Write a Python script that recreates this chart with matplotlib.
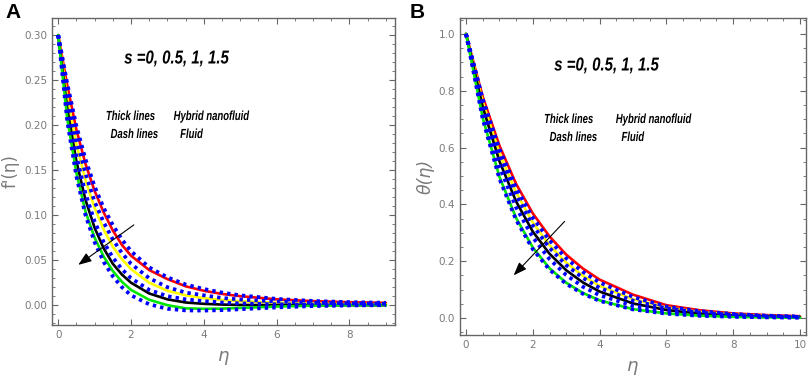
import matplotlib
matplotlib.use("Agg")
import matplotlib.pyplot as plt
from matplotlib.ticker import MultipleLocator
from matplotlib.patheffects import AbstractPathEffect
from matplotlib.transforms import Affine2D

# ---------------- Panel A data: f'(eta) ----------------
eta_a = [0, 0.25, 0.5, 0.75, 1, 1.25, 1.5, 1.75, 2, 2.5, 3, 3.5, 4, 4.5, 5, 6, 7, 8, 9]
fa_red    = [0.300, 0.244, 0.195, 0.157, 0.127, 0.103, 0.083, 0.067, 0.055, 0.039, 0.029, 0.021, 0.016, 0.0125, 0.010, 0.0065, 0.0045, 0.0033, 0.0026]
fa_yellow = [0.300, 0.230, 0.179, 0.139, 0.108, 0.084, 0.065, 0.051, 0.040, 0.025, 0.016, 0.011, 0.0078, 0.0058, 0.0044, 0.0027, 0.0017, 0.0012, 0.0010]
fa_black  = [0.300, 0.218, 0.160, 0.117, 0.086, 0.063, 0.046, 0.034, 0.025, 0.013, 0.0065, 0.003, 0.0015, 0.0007, 0.0003, 0.0, 0.0, 0.0, 0.0]
fa_green  = [0.300, 0.207, 0.147, 0.104, 0.075, 0.054, 0.038, 0.026, 0.017, 0.006, 0.000, -0.0035, -0.004, -0.0038, -0.003, -0.0015, -0.0005, 0.0, 0.0]
fa_fluid1 = [0.300, 0.246, 0.199, 0.162, 0.132, 0.108, 0.089, 0.073, 0.060, 0.042, 0.031, 0.023, 0.018, 0.014, 0.011, 0.007, 0.0047, 0.0034, 0.0027]
fa_fluid2 = [0.300, 0.235, 0.185, 0.146, 0.115, 0.092, 0.073, 0.058, 0.046, 0.030, 0.020, 0.014, 0.011, 0.008, 0.0063, 0.004, 0.0027, 0.002, 0.0016]
fa_fluid3 = [0.300, 0.222, 0.166, 0.124, 0.093, 0.070, 0.053, 0.040, 0.030, 0.017, 0.010, 0.0065, 0.0045, 0.003, 0.002, 0.001, 0.0005, 0.0003, 0.0002]
fa_fluid4 = [0.300, 0.204, 0.143, 0.100, 0.070, 0.048, 0.032, 0.020, 0.011, 0.001, -0.004, -0.0058, -0.006, -0.0055, -0.0045, -0.0025, -0.001, -0.0003, 0.0]

# ---------------- Panel B data: theta(eta) ----------------
eta_b = [0, 0.5, 1, 1.5, 2, 2.5, 3, 3.5, 4, 5, 6, 7, 8, 9, 10]
tb_red    = [1.0, 0.779, 0.607, 0.472, 0.368, 0.287, 0.223, 0.174, 0.135, 0.082, 0.045, 0.027, 0.016, 0.010, 0.006]
tb_yellow = [1.0, 0.761, 0.580, 0.442, 0.336, 0.256, 0.195, 0.148, 0.113, 0.066, 0.037, 0.021, 0.012, 0.007, 0.004]
tb_black  = [1.0, 0.743, 0.552, 0.410, 0.304, 0.226, 0.168, 0.125, 0.093, 0.051, 0.028, 0.015, 0.0085, 0.005, 0.003]
tb_green  = [1.0, 0.705, 0.497, 0.352, 0.248, 0.175, 0.124, 0.088, 0.062, 0.031, 0.016, 0.008, 0.004, 0.002, 0.001]
tb_fluid1 = [1.0, 0.771, 0.595, 0.458, 0.353, 0.273, 0.210, 0.162, 0.125, 0.074, 0.040, 0.024, 0.014, 0.008, 0.005]
tb_fluid2 = [1.0, 0.756, 0.571, 0.432, 0.326, 0.247, 0.186, 0.141, 0.106, 0.061, 0.034, 0.019, 0.011, 0.006, 0.0035]
tb_fluid3 = [1.0, 0.730, 0.533, 0.389, 0.284, 0.207, 0.151, 0.110, 0.080, 0.043, 0.023, 0.012, 0.0065, 0.0035, 0.002]
tb_fluid4 = [1.0, 0.700, 0.490, 0.345, 0.242, 0.170, 0.120, 0.085, 0.060, 0.030, 0.015, 0.0075, 0.004, 0.002, 0.001]

s_label = "s =0, 0.5, 1, 1.5"
note_labels = ["Thick lines", "Hybrid nanofluid", "Dash lines", "Fluid"]
solid_colors = ["#ff0000", "#ffff00", "#000000", "#00e600"]
fluid_color = "#0000ff"

SANS = ["Liberation Sans", "DejaVu Sans"]
GRAY = "#7a7a7a"
W, H = 809, 386


class Squeeze(AbstractPathEffect):
    """Horizontally condense text glyphs around their own centre (narrow font look)."""
    def __init__(self, sx):
        super().__init__()
        self.sx = sx

    def draw_path(self, renderer, gc, tpath, affine, rgbFace=None):
        ext = tpath.get_extents(affine)
        cx = 0.5 * (ext.x0 + ext.x1)
        aff = affine + Affine2D().translate(-cx, 0).scale(self.sx, 1).translate(cx, 0)
        renderer.draw_path(gc, tpath, aff, rgbFace)


fig = plt.figure(figsize=(W / 100, H / 100), dpi=100)
axA = fig.add_axes([52 / W, 1 - 325 / H, 343 / W, 307 / H])
axB = fig.add_axes([460 / W, 1 - 335 / H, 346 / W, 317 / H])


def style(ax):
    for sp in ax.spines.values():
        sp.set_color("#666666")
        sp.set_linewidth(1.0)
    ax.tick_params(which="both", direction="in", top=True, right=True,
                   colors="#666666", labelcolor=GRAY, labelsize=7.5)
    ax.tick_params(which="major", length=4.5, width=0.8)
    ax.tick_params(which="minor", length=2.5, width=0.6)


def draw(ax, x, solids, fluids):
    for y, c in zip(solids, solid_colors):
        ax.plot(x, y, color=c, lw=1.9, solid_capstyle="round", zorder=2)
    for y in fluids:
        ax.plot(x, y, color=fluid_color, lw=2.7, linestyle=(0, (0.9, 1.1)), zorder=3)


def ftext(px, py, s, size, sx):
    fig.text(px / W, 1 - py / H, s, ha="center", va="center", fontsize=size,
             fontweight="bold", fontstyle="italic", family=SANS,
             path_effects=[Squeeze(sx)])


# Panel A
draw(axA, eta_a, [fa_red, fa_yellow, fa_black, fa_green],
     [fa_fluid1, fa_fluid2, fa_fluid3, fa_fluid4])
axA.set_xlim(-0.17, 9.25)
axA.set_ylim(-0.022, 0.319)
axA.xaxis.set_major_locator(MultipleLocator(2))
axA.xaxis.set_minor_locator(MultipleLocator(0.5))
axA.yaxis.set_major_locator(MultipleLocator(0.05))
axA.yaxis.set_minor_locator(MultipleLocator(0.01))
axA.yaxis.set_major_formatter(plt.FuncFormatter(lambda v, p: f"{v:.2f}"))
style(axA)
axA.set_xlabel("η", fontsize=13, color=GRAY, fontstyle="italic", labelpad=5)
axA.set_ylabel("f'(η)", fontsize=12, color=GRAY, labelpad=3)
axA.annotate("", xy=(0.49, 0.043), xytext=(2.14, 0.091),
             arrowprops=dict(arrowstyle="-|>,head_length=0.8,head_width=0.3",
                             color="black", lw=0.8), zorder=5)

ftext(176.5, 59, s_label, 13.5, 0.8)
ftext(130.5, 117, note_labels[0], 9.5, 0.72)
ftext(211.5, 117, note_labels[1], 9.5, 0.72)
ftext(134.5, 135, note_labels[2], 9.5, 0.72)
ftext(191.5, 135, note_labels[3], 9.5, 0.72)

# Panel B
draw(axB, eta_b, [tb_red, tb_yellow, tb_black, tb_green],
     [tb_fluid1, tb_fluid2, tb_fluid3, tb_fluid4])
axB.set_xlim(-0.18, 10.18)
axB.set_ylim(-0.06, 1.056)
axB.xaxis.set_major_locator(MultipleLocator(2))
axB.xaxis.set_minor_locator(MultipleLocator(0.5))
axB.yaxis.set_major_locator(MultipleLocator(0.2))
axB.yaxis.set_minor_locator(MultipleLocator(0.05))
axB.yaxis.set_major_formatter(plt.FuncFormatter(lambda v, p: f"{v:.1f}"))
style(axB)
axB.set_xlabel("η", fontsize=13, color=GRAY, fontstyle="italic", labelpad=5)
axB.set_ylabel("θ(η)", fontsize=12.5, color=GRAY, fontstyle="italic", labelpad=3)
axB.annotate("", xy=(1.37, 0.143), xytext=(3.01, 0.347),
             arrowprops=dict(arrowstyle="-|>,head_length=0.8,head_width=0.3",
                             color="black", lw=0.8), zorder=5)

ftext(606.5, 66, s_label, 13.5, 0.8)
ftext(568.7, 120, note_labels[0], 9.5, 0.72)
ftext(653.7, 120, note_labels[1], 9.5, 0.72)
ftext(573.5, 138, note_labels[2], 9.5, 0.72)
ftext(632.8, 138, note_labels[3], 9.5, 0.72)

fig.text(5 / W, 1 - 13 / H, "A", fontsize=15, fontweight="bold", va="center", ha="left",
         family=SANS)
fig.text(410 / W, 1 - 13 / H, "B", fontsize=15, fontweight="bold", va="center", ha="left",
         family=SANS)

fig.savefig("out.png", dpi=100)
